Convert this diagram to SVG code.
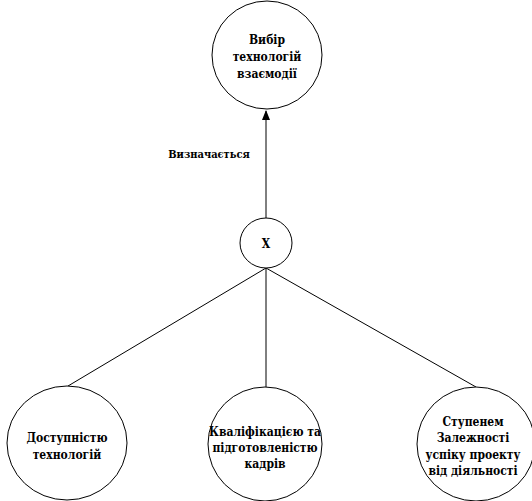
<svg xmlns="http://www.w3.org/2000/svg" width="532" height="501" viewBox="0 0 532 501">
<style>
.n{fill:#fff;stroke:#000;stroke-width:1}
.c{stroke:#000;stroke-width:1;fill:none}
text{font-family:'DejaVu Serif Condensed','DejaVu Serif',serif;font-size:12px;font-weight:bold;fill:#000;text-anchor:middle}
</style>
<defs>
<marker id="ah" markerWidth="10" markerHeight="10" refX="9" refY="5" orient="auto" markerUnits="userSpaceOnUse">
<path d="M0,1 L10,5 L0,9 Z" fill="#000"/>
</marker>
</defs>
<rect width="532" height="501" fill="#fff"/>
<g id="connectors">
<line class="c" x1="266" y1="218" x2="266" y2="111" marker-end="url(#ah)"/>
<line class="c" x1="266" y1="268" x2="68" y2="386"/>
<line class="c" x1="266" y1="268" x2="266" y2="387"/>
<line class="c" x1="266" y1="268" x2="476" y2="387"/>
<text x="209" y="158" style="font-size:11px">Визначається</text>
</g>
<g id="top">
<ellipse class="n" cx="267" cy="55" rx="55" ry="54"/>
<text x="267" y="44">Вибір</text>
<text x="267" y="61">технологій</text>
<text x="267" y="78">взаємодії</text>
</g>
<g id="x">
<ellipse class="n" cx="266" cy="243" rx="26" ry="25"/>
<text x="266" y="248">X</text>
</g>
<g id="left">
<ellipse class="n" cx="67" cy="443" rx="60" ry="57"/>
<text x="67" y="442">Доступністю</text>
<text x="67" y="459">технологій</text>
</g>
<g id="middle">
<ellipse class="n" cx="265" cy="444" rx="57" ry="57"/>
<text x="265" y="436">Кваліфікацією та</text>
<text x="265" y="452">підготовленістю</text>
<text x="265" y="468">кадрів</text>
</g>
<g id="right">
<ellipse class="n" cx="476" cy="444" rx="59" ry="57"/>
<text x="473" y="426">Ступенем</text>
<text x="473" y="442">Залежності</text>
<text x="473" y="459">успіку проекту</text>
<text x="473" y="475">від діяльності</text>
</g>
</svg>
